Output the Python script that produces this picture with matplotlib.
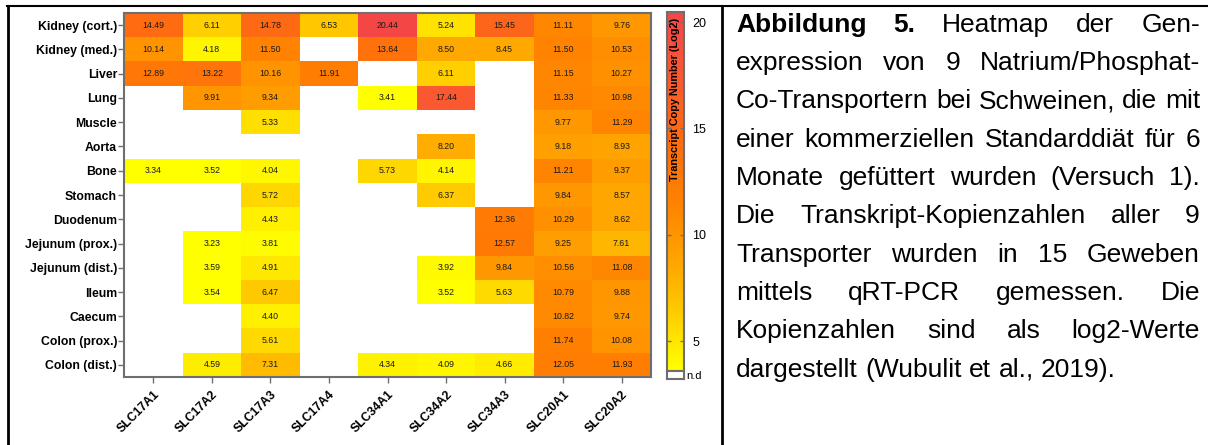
import numpy as np
import matplotlib.pyplot as plt
from matplotlib.colors import LinearSegmentedColormap, Normalize
from matplotlib.lines import Line2D

nan = np.nan

tissues = ['Kidney (cort.)', 'Kidney (med.)', 'Liver', 'Lung', 'Muscle', 'Aorta', 'Bone',
           'Stomach', 'Duodenum', 'Jejunum (prox.)', 'Jejunum (dist.)', 'Ileum', 'Caecum',
           'Colon (prox.)', 'Colon (dist.)']
genes = ['SLC17A1', 'SLC17A2', 'SLC17A3', 'SLC17A4', 'SLC34A1', 'SLC34A2', 'SLC34A3',
         'SLC20A1', 'SLC20A2']

# log2 transcript copy numbers, nan = not detected
expr = [
    [14.49, 6.11, 14.78, 6.53, 20.44, 5.24, 15.45, 11.11, 9.76],
    [10.14, 4.18, 11.50, nan, 13.64, 8.50, 8.45, 11.50, 10.53],
    [12.89, 13.22, 10.16, 11.91, nan, 6.11, nan, 11.15, 10.27],
    [nan, 9.91, 9.34, nan, 3.41, 17.44, nan, 11.33, 10.98],
    [nan, nan, 5.33, nan, nan, nan, nan, 9.77, 11.29],
    [nan, nan, nan, nan, nan, 8.20, nan, 9.18, 8.93],
    [3.34, 3.52, 4.04, nan, 5.73, 4.14, nan, 11.21, 9.37],
    [nan, nan, 5.72, nan, nan, 6.37, nan, 9.84, 8.57],
    [nan, nan, 4.43, nan, nan, nan, 12.36, 10.29, 8.62],
    [nan, 3.23, 3.81, nan, nan, nan, 12.57, 9.25, 7.61],
    [nan, 3.59, 4.91, nan, nan, 3.92, 9.84, 10.56, 11.08],
    [nan, 3.54, 6.47, nan, nan, 3.52, 5.63, 10.79, 9.88],
    [nan, nan, 4.40, nan, nan, nan, nan, 10.82, 9.74],
    [nan, nan, 5.61, nan, nan, nan, nan, 11.74, 10.08],
    [nan, 4.59, 7.31, nan, 4.34, 4.09, 4.66, 12.05, 11.93],
]
cbar_ticks = [5, 10, 15, 20]

caption_lines = [
    'Abbildung 5. Heatmap der Gen-',
    'expression von 9 Natrium/Phosphat-',
    'Co-Transportern bei Schweinen, die mit',
    'einer kommerziellen Standarddiät für 6',
    'Monate gefüttert wurden (Versuch 1).',
    'Die Transkript-Kopienzahlen aller 9',
    'Transporter wurden in 15 Geweben',
    'mittels qRT-PCR gemessen. Die',
    'Kopienzahlen sind als log2-Werte',
    'dargestellt (Wubulit et al., 2019).',
]

plt.rcParams['font.family'] = ['Liberation Sans', 'DejaVu Sans']

W, H = 1208, 445
fig = plt.figure(figsize=(W / 100, H / 100), dpi=100)


def px_axes(x0, y0, x1, y1):
    # pixel box (top-left origin) -> figure axes
    return fig.add_axes([x0 / W, 1 - y1 / H, (x1 - x0) / W, (y1 - y0) / H])


vmin, vmax = 3.6, 20.47
stops = [(3.3, '#FFFF00'), (5.0, '#FFE600'), (6.5, '#FFC800'), (8.5, '#FFA800'),
         (11.5, '#FF8200'), (14.5, '#FF6C10'), (17.5, '#FA5832'), (20.47, '#F54646')]
cmap = LinearSegmentedColormap.from_list(
    'expr', [((min(max(v, vmin), vmax) - vmin) / (vmax - vmin), c) for v, c in stops])
cmap.set_bad('white')
norm = Normalize(vmin, vmax)

grey = '#6e6e6e'
data = np.ma.masked_invalid(np.array(expr))

ax = px_axes(124, 13, 651, 377)
im = ax.imshow(data, cmap=cmap, norm=norm, aspect='auto', interpolation='nearest')
for i in range(data.shape[0]):
    for j in range(data.shape[1]):
        if not np.ma.is_masked(data[i, j]):
            ax.text(j, i, f'{data[i, j]:.2f}', ha='center', va='center', fontsize=6.3, color='#1a1a1a')

ax.set_xticks(range(len(genes)))
ax.set_xticklabels(genes, rotation=45, ha='right', rotation_mode='anchor',
                   fontsize=8.8, fontweight='bold')
ax.set_yticks(range(len(tissues)))
ax.set_yticklabels(tissues, fontsize=8.8, fontweight='bold')
ax.tick_params(axis='both', length=4, width=1, color=grey, pad=1)
ax.tick_params(axis='x', pad=4)
for s in ax.spines.values():
    s.set_color(grey)
    s.set_linewidth(1.5)

# colour bar with its label drawn on top of it
cax = px_axes(667, 12, 684, 371)
cb = fig.colorbar(im, cax=cax, ticks=cbar_ticks)
cb.outline.set_edgecolor(grey)
cb.outline.set_linewidth(1.5)
cax.tick_params(direction='in', length=3, width=1, color=grey, left=True, right=True,
                labelsize=9, pad=6)
cax.text(0.5, 0.985, 'Transcript Copy Number (Log2)', transform=cax.transAxes, rotation=90,
         ha='center', va='top', fontsize=7.8, fontweight='bold')

# "not detected" swatch
nd = px_axes(667, 371, 684, 379)
nd.set_xticks([])
nd.set_yticks([])
for s in nd.spines.values():
    s.set_color(grey)
    s.set_linewidth(1.5)
fig.text(686 / W, 1 - 376 / H, 'n.d', fontsize=8, va='center', ha='left')

# table frame
fig.add_artist(Line2D([7 / W, 1], [1 - 6 / H] * 2, color='black', lw=1.5))
fig.add_artist(Line2D([8 / W] * 2, [0, 1 - 6 / H], color='black', lw=2))
fig.add_artist(Line2D([721.5 / W] * 2, [0, 1 - 6 / H], color='black', lw=2))

# justified caption
fig.canvas.draw()
renderer = fig.canvas.get_renderer()
left, right = 736, 1200
fs = 19


def word_width(word, weight):
    t = fig.text(0, 0, word, fontsize=fs, fontweight=weight)
    w = t.get_window_extent(renderer).width
    t.remove()
    return w


for k, line in enumerate(caption_lines):
    words = line.split(' ')
    weights = ['bold' if (k == 0 and n < 2) else 'normal' for n in range(len(words))]
    widths = [word_width(w, wt) for w, wt in zip(words, weights)]
    base = 31.7 + k * 38.33
    if k < len(caption_lines) - 1:
        gap = (right - left - sum(widths)) / (len(words) - 1)
    else:
        gap = word_width('a a', 'normal') - 2 * word_width('a', 'normal')
    x = left
    for w, wt, wd in zip(words, weights, widths):
        fig.text(x / W, 1 - base / H, w, fontsize=fs, fontweight=wt, va='baseline', ha='left')
        x += wd + gap

fig.savefig('out.png', dpi=100)
